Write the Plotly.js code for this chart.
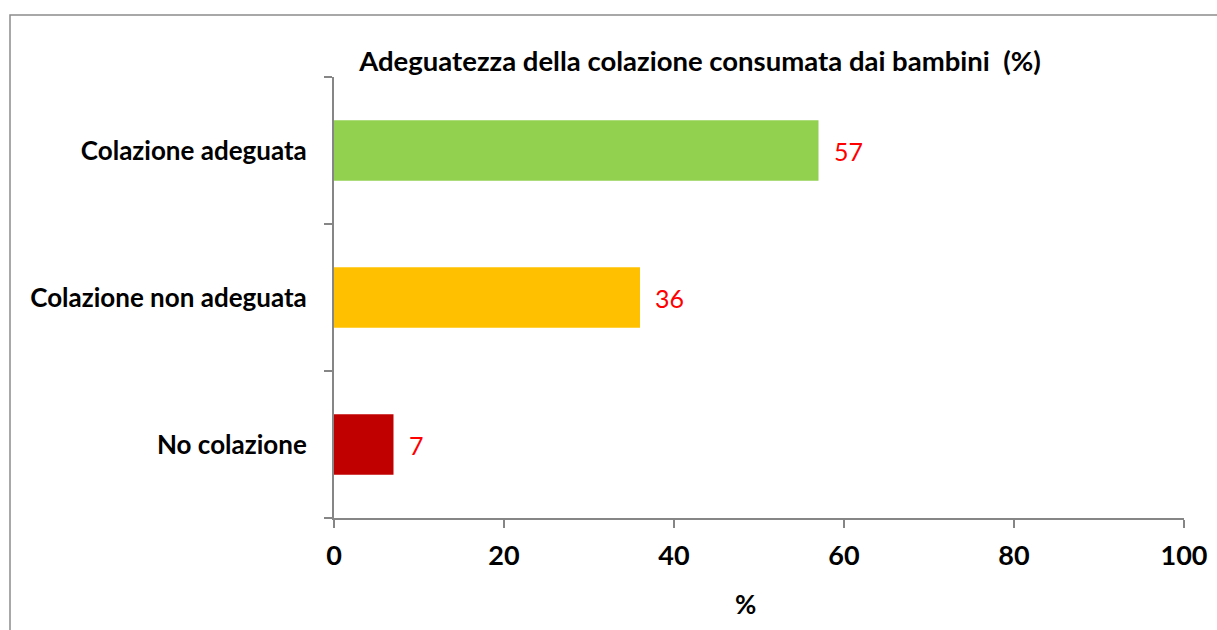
<!DOCTYPE html>
<html>
<head>
<meta charset="utf-8">
<script src="https://cdn.plot.ly/plotly-3.0.1.min.js"></script>
<style>html,body{margin:0;padding:0;background:#fff;}#chart{width:1217px;height:630px;}</style>
</head>
<body>
<div id="chart"></div>
<script>
const categories = ["Colazione adeguata", "Colazione non adeguata", "No colazione"];
const values = [57, 36, 7];
const barColors = ["#92D050", "#FFC000", "#C00000"];
const xTicks = [0, 20, 40, 60, 80, 100];
const chartTitle = "Adeguatezza della colazione consumata dai bambini  (%)";
const xTitle = "%";

const FONT = "Lato, 'Open Sans', sans-serif";

const trace = {
  type: "bar",
  orientation: "h",
  x: values,
  y: categories,
  marker: {color: barColors, line: {width: 0}},
  hoverinfo: "skip"
};

const L = 334, R = 1184, T = 77, B = 518;
const px = v => (v - L) / (R - L);
const py = v => (B - v) / (B - T);

const annotations = values.map((v, i) => ({
  x: v, y: categories[i], xref: "x", yref: "y",
  text: String(v), showarrow: false, xanchor: "left", yanchor: "middle",
  xshift: 13, font: {family: FONT, size: 25, color: "#FF0000"}
}));
annotations.push({
  x: px(745), y: py(604), xref: "paper", yref: "paper",
  text: "<b>" + xTitle + "</b>", showarrow: false, xanchor: "center", yanchor: "middle",
  font: {family: FONT, size: 26, color: "#000"}
});

const layout = {
  width: 1217, height: 630,
  margin: {l: L, r: 1217 - R, t: T, b: 630 - B},
  paper_bgcolor: "#fff", plot_bgcolor: "#fff",
  showlegend: false,
  bargap: 0.59,
  font: {family: FONT, color: "#000"},
  title: {
    text: "<b>" + chartTitle + "</b>",
    font: {family: FONT, size: 27.5, color: "#000"},
    x: 700 / 1217, xanchor: "center", xref: "container",
    y: 1 - 61 / 630, yanchor: "middle", yref: "container"
  },
  xaxis: {
    range: [0, 100], tickvals: xTicks, ticktext: xTicks.map(t => "<b>" + t + "</b>"),
    showgrid: false, zeroline: false, showline: true, linecolor: "#868686", linewidth: 2,
    ticks: "outside", ticklen: 8, tickcolor: "#868686", tickwidth: 2,
    tickfont: {family: FONT, size: 27, color: "#000"}, ticklabelstandoff: 5,
    fixedrange: true
  },
  yaxis: {
    type: "category", range: [2.5, -0.5], tickson: "boundaries",
    ticktext: categories.map(c => "<b>" + c + "</b>"), tickvals: categories,
    showgrid: false, zeroline: false, showline: true, linecolor: "#868686", linewidth: 2,
    ticks: "outside", ticklen: 8, tickcolor: "#868686", tickwidth: 2,
    tickfont: {family: FONT, size: 26, color: "#000"}, ticklabelstandoff: 20,
    fixedrange: true
  },
  annotations: annotations,
  shapes: [{
    type: "path", xref: "paper", yref: "paper",
    path: `M ${px(10)} ${py(640)} L ${px(10)} ${py(15)} L ${px(1230)} ${py(15)}`,
    line: {color: "#8c8c8c", width: 1.5}
  }]
};

Plotly.newPlot("chart", [trace], layout, {displayModeBar: false, staticPlot: true});
</script>
</body>
</html>
